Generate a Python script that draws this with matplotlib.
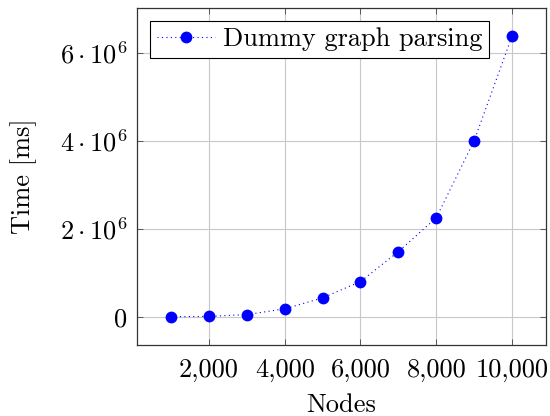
import matplotlib
matplotlib.use('Agg')
import matplotlib.pyplot as plt
from matplotlib.ticker import FuncFormatter, FixedLocator

# Data
nodes = [1000, 2000, 3000, 4000, 5000, 6000, 7000, 8000, 9000, 10000]
time_ms = [0.0, 0.01e6, 0.05e6, 0.18e6, 0.43e6, 0.80e6, 1.48e6, 2.25e6, 4.00e6, 6.38e6]
x_ticks = [2000, 4000, 6000, 8000, 10000]
y_ticks = [0, 2e6, 4e6, 6e6]

plt.rcParams['font.family'] = ['cmr10', 'DejaVu Serif']
plt.rcParams['mathtext.fontset'] = 'cm'
plt.rcParams['axes.unicode_minus'] = False

fig = plt.figure(figsize=(5.5, 4.16), dpi=100)
ax = fig.add_axes([0.249, 0.171, 0.744, 0.810])

ax.plot(nodes, time_ms, color='blue', linestyle=(0, (1, 3)), linewidth=0.8,
        marker='o', markersize=8.5, markeredgewidth=0, label='Dummy graph parsing')

# pgfplots-like 10% enlargement of limits
xr = max(nodes) - min(nodes)
yr = max(time_ms) - min(time_ms)
ax.set_xlim(min(nodes) - 0.1 * xr, max(nodes) + 0.1 * xr)
ax.set_ylim(min(time_ms) - 0.1 * yr, max(time_ms) + 0.1 * yr)

ax.xaxis.set_major_locator(FixedLocator(x_ticks))
ax.yaxis.set_major_locator(FixedLocator(y_ticks))
ax.xaxis.set_major_formatter(FuncFormatter(lambda v, p: f'{int(v):,}'))


def yfmt(v, p):
    if v == 0:
        return '$0$'
    return r'$%d\cdot 10^{6}$' % round(v / 1e6)


ax.yaxis.set_major_formatter(FuncFormatter(yfmt))

ax.grid(True, color='#c8c8c8', linewidth=0.8)
ax.set_axisbelow(True)
ax.tick_params(direction='in', length=4, width=0.6, color='#444444',
               top=True, right=True, labelsize=19, pad=7)
ax.tick_params(axis='x', pad=10)
for s in ax.spines.values():
    s.set_linewidth(0.9)
    s.set_color('#333333')

ax.set_xlabel('Nodes', fontsize=19, labelpad=8)
ax.set_ylabel('Time [ms]', fontsize=19, labelpad=16)

leg = ax.legend(loc='upper left', fontsize=19, fancybox=False, framealpha=1,
                edgecolor='black', borderpad=0.25, handlelength=2.2,
                handletextpad=0.3, borderaxespad=0.5)
leg.get_frame().set_linewidth(0.8)

fig.savefig('out.png', dpi=100)
